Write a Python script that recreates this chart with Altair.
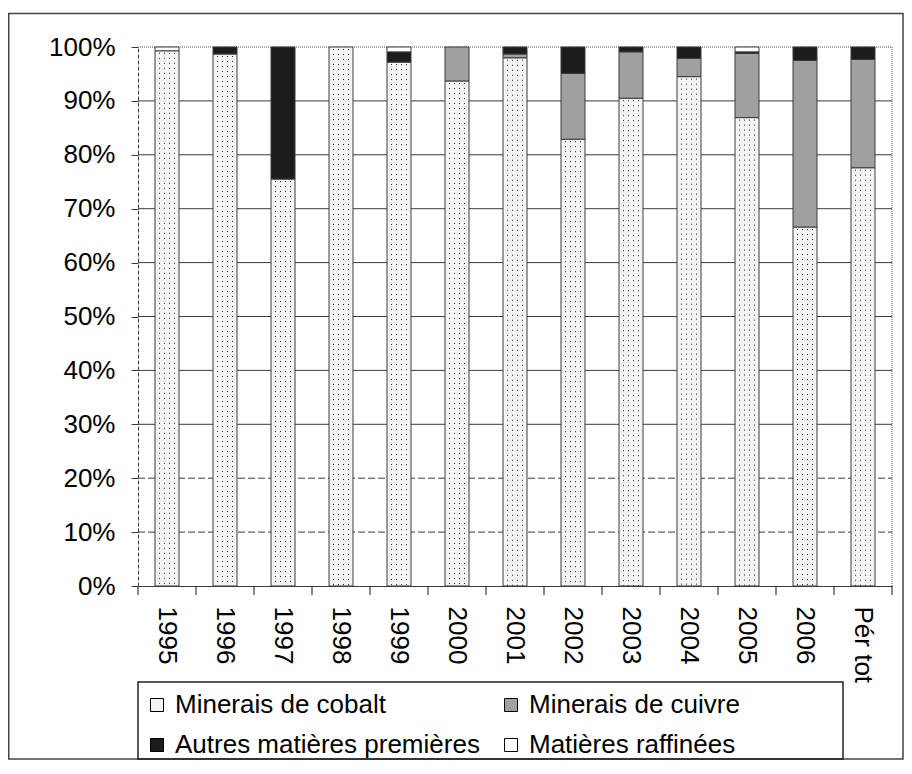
import altair as alt
import pandas as pd

years = ["1995", "1996", "1997", "1998", "1999", "2000", "2001", "2002",
         "2003", "2004", "2005", "2006", "Pér tot"]
cobalt = [99.3, 98.7, 75.5, 100.0, 97.2, 93.7, 98.0, 82.9, 90.5, 94.5, 86.9, 66.6, 77.6]
cuivre = [0.0, 0.0, 0.0, 0.0, 0.0, 6.3, 0.7, 12.2, 8.6, 3.4, 11.9, 30.9, 20.1]
autres = [0.0, 1.3, 24.5, 0.0, 1.9, 0.0, 1.3, 4.9, 0.9, 2.1, 0.3, 2.5, 2.3]
raffinees = [0.7, 0.0, 0.0, 0.0, 0.9, 0.0, 0.0, 0.0, 0.0, 0.0, 0.9, 0.0, 0.0]
series = ["Minerais de cobalt", "Minerais de cuivre",
          "Autres matières premières", "Matières raffinées"]
colors = ["#f4f4f4", "#a0a0a0", "#1c1c1c", "#ffffff"]
# legend is filled column by column: cobalt, autres | cuivre, raffinées
legend_order = [0, 2, 1, 3]
y_ticks = [0, 10, 20, 30, 40, 50, 60, 70, 80, 90, 100]

W, H = 754, 539
STEP = W / len(years)
BAR = 24
PAD_L, PAD_T, PAD_R, PAD_B = 130, 39, 12, 174
LINE = "#3a3a3a"
FONT = "Liberation Sans"
FS = 26

rows = []
for i, (name, vals) in enumerate(zip(series, [cobalt, cuivre, autres, raffinees])):
    for c, v in zip(years, vals):
        rows.append({"cat": c, "serie": name, "idx": i, "value": v})
df = pd.DataFrame(rows)
cob = pd.DataFrame({"cat": years, "cobalt": cobalt})
grid = pd.DataFrame({"v": y_ticks[1:]})
one = pd.DataFrame({"a": [0]})

pi = 1 - BAR / STEP
xscale = alt.Scale(paddingInner=pi, paddingOuter=pi / 2)
yscale = alt.Scale(domain=[0, 100], nice=False)
xaxis = alt.Axis(ticks=False, labelAngle=90, labelAlign="left",
                 labelBaseline="middle", labelPadding=20,
                 labelFont=FONT, labelFontSize=FS, labelColor="black",
                 domainColor=LINE, domainWidth=1.2, grid=False)
yaxis = alt.Axis(values=y_ticks, labelExpr="datum.value + '%'",
                 labelFont=FONT, labelFontSize=FS, labelColor="black",
                 domainDash=[4, 2], domainColor=LINE, tickColor=LINE,
                 tickSize=7, labelPadding=16, grid=False)
X = alt.X("cat:N", sort=years, scale=xscale, title=None, axis=xaxis)


def Y(field):
    return alt.Y(field, scale=yscale, title=None, axis=yaxis)


outer = alt.Chart(one).mark_rect(fill="white", fillOpacity=0, stroke="#444", strokeWidth=1.5).encode(
    x=alt.value(-PAD_L + 0.75), x2=alt.value(W + PAD_R - 1),
    y=alt.value(-PAD_T + 5.5), y2=alt.value(H + PAD_B - 1))

grid_dash = alt.Chart(grid).transform_filter("datum.v <= 20").mark_rule(
    color=LINE, strokeWidth=1, strokeDash=[7, 3]).encode(
    y=Y("v:Q"), x=alt.value(0), x2=alt.value(W))
grid_solid = alt.Chart(grid).transform_filter("datum.v > 20 && datum.v < 100").mark_rule(
    color=LINE, strokeWidth=1).encode(
    y=Y("v:Q"), x=alt.value(0), x2=alt.value(W))
grid_top = alt.Chart(grid).transform_filter("datum.v == 100").mark_rule(
    color="#555", strokeWidth=1, strokeDash=[1, 1]).encode(
    y=Y("v:Q"), x=alt.value(0), x2=alt.value(W))
right_edge = alt.Chart(one).mark_rule(color="#555", strokeWidth=1, strokeDash=[1, 1]).encode(
    x=alt.value(W), y=alt.value(0), y2=alt.value(H))

bars = alt.Chart(df).transform_filter("datum.value > 0").mark_bar(
    stroke=LINE, strokeWidth=1).encode(
    x=X,
    y=alt.Y("value:Q", stack="zero", scale=yscale, title=None, axis=yaxis),
    color=alt.Color("serie:N",
                    scale=alt.Scale(domain=[series[k] for k in legend_order],
                                    range=[colors[k] for k in legend_order]),
                    legend=alt.Legend(title=None, orient="none", legendX=6, legendY=645,
                                      columns=2, columnPadding=18, rowPadding=14,
                                      symbolType="square", symbolSize=169,
                                      symbolStrokeColor="black", symbolStrokeWidth=1,
                                      labelFontSize=FS, labelFont=FONT, labelColor="black",
                                      labelOffset=5, labelLimit=0, padding=0)),
    order=alt.Order("idx:Q", sort="ascending"))

texture = [
    alt.Chart(cob).mark_rule(xOffset=off, strokeDash=[1, 4], strokeDashOffset=-2,
                             color="#222", strokeWidth=1).encode(
        x=X, y=Y("cobalt:Q"), y2=alt.datum(0))
    for off in [-7.5, -2.5, 2.5, 7.5]
]

xticks = alt.Chart(cob).mark_rule(xOffset=-STEP / 2, color=LINE, strokeWidth=1.2).encode(
    x=X, y=alt.value(H), y2=alt.value(H + 9))
xtick_last = alt.Chart(cob).transform_filter(alt.datum.cat == years[-1]).mark_rule(
    xOffset=STEP / 2, color=LINE, strokeWidth=1.2).encode(
    x=X, y=alt.value(H), y2=alt.value(H + 9))

legend_box = alt.Chart(one).mark_rect(fill="white", fillOpacity=0, stroke="#222", strokeWidth=1.5).encode(
    x=alt.value(0), x2=alt.value(705), y=alt.value(635), y2=alt.value(712))

chart = alt.layer(
    outer, grid_dash, grid_solid, grid_top, right_edge, bars, *texture,
    xticks, xtick_last, legend_box
).properties(
    width=W, height=H,
    padding={"left": PAD_L, "top": PAD_T, "right": PAD_R, "bottom": PAD_B},
    autosize=alt.AutoSizeParams(type="none"),
).configure(font=FONT).configure_axis(
    labelFont=FONT, labelFontSize=FS, labelColor="black"
).configure_view(stroke=None)

chart.save("out.html", embed_options={"renderer": "svg", "actions": False})
